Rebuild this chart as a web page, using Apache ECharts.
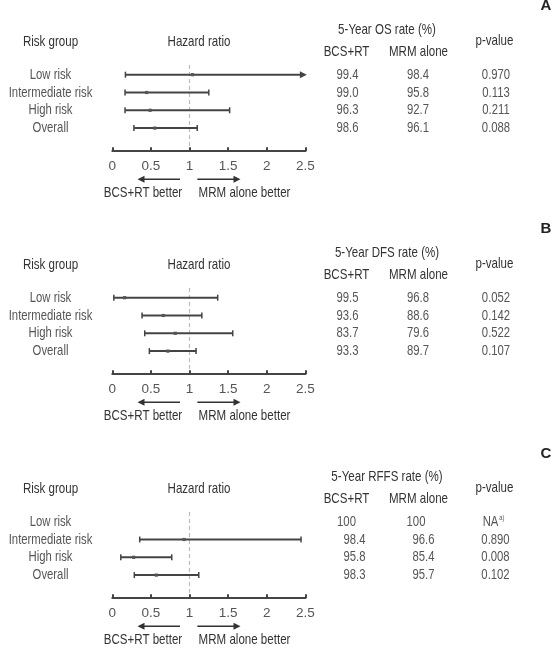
<!DOCTYPE html>
<html><head><meta charset="utf-8">
<script src="https://cdn.jsdelivr.net/npm/echarts@6/dist/echarts.min.js"></script>
<style>html,body{margin:0;padding:0;background:#fff}#c{width:552px;height:652px}</style>
</head><body><div id="c"></div>
<script>
const riskGroups = ['Low risk', 'Intermediate risk', 'High risk', 'Overall'];
const panelLetters = ['A', 'B', 'C'];
const rateTitles = ['5-Year OS rate (%)', '5-Year DFS rate (%)', '5-Year RFFS rate (%)'];
const xTicks = [0, 0.5, 1, 1.5, 2, 2.5];

// Hazard ratios (lower CI, point, upper CI); arrow = CI continues past axis
const osLower = [0.17, 0.165, 0.165, 0.28];
const osPoint = [1.04, 0.445, 0.49, 0.55];
const osUpper = [2.52, 1.25, 1.52, 1.10];
const osArrow = [1, 0, 0, 0];

const dfsLower = [0.02, 0.385, 0.42, 0.48];
const dfsPoint = [0.16, 0.66, 0.815, 0.72];
const dfsUpper = [1.365, 1.16, 1.56, 1.085];
const dfsArrow = [0, 0, 0, 0];

const rffsLower = [null, 0.355, 0.11, 0.285];
const rffsPoint = [null, 0.93, 0.277, 0.57];
const rffsUpper = [null, 2.445, 0.77, 1.12];
const rffsArrow = [0, 0, 0, 0];

// Table values
const osBcs = ['99.4', '99.0', '96.3', '98.6'];
const osMrm = ['98.4', '95.8', '92.7', '96.1'];
const osP = ['0.970', '0.113', '0.211', '0.088'];

const dfsBcs = ['99.5', '93.6', '83.7', '93.3'];
const dfsMrm = ['96.8', '88.6', '79.6', '89.7'];
const dfsP = ['0.052', '0.142', '0.522', '0.107'];

const rffsBcs = ['100', '98.4', '95.8', '98.3'];
const rffsMrm = ['100', '96.6', '85.4', '95.7'];
const rffsP = ['NA', '0.890', '0.008', '0.102'];

const panels = [
  {lo: osLower, pt: osPoint, hi: osUpper, ar: osArrow, bcs: osBcs, mrm: osMrm, p: osP},
  {lo: dfsLower, pt: dfsPoint, hi: dfsUpper, ar: dfsArrow, bcs: dfsBcs, mrm: dfsMrm, p: dfsP},
  {lo: rffsLower, pt: rffsPoint, hi: rffsUpper, ar: rffsArrow, bcs: rffsBcs, mrm: rffsMrm, p: rffsP}
];

const FONT = "'Liberation Sans', Arial, sans-serif";
const SX = 0.77;      // horizontal condensing of header text
const SX_ROW = 0.78;  // horizontal condensing of row text
const offsets = [0, 223, 447];
const ROW = 17.8;
const GRID_LEFT = 112.3, GRID_W = 193;
const FIRST_ROW_Y = 74.7;
const DARK = '#333', MID = '#555', BAR = '#444';

const chart = echarts.init(document.getElementById('c'), null, {renderer: 'canvas'});

const grids = [], xAxes = [], yAxes = [], series = [], graphics = [];

function txt(text, x, y, opts) {
  opts = opts || {};
  return {
    type: 'text', x: x, y: y, scaleX: opts.sx || SX, silent: true,
    style: {
      text: text, fill: opts.fill || DARK,
      font: (opts.weight || 'normal') + ' ' + (opts.size || 15) + 'px ' + FONT,
      align: 'center', verticalAlign: 'middle'
    }
  };
}

panels.forEach((pn, i) => {
  const off = offsets[i];
  const top = FIRST_ROW_Y - ROW + off;
  grids.push({left: GRID_LEFT, top: top, width: GRID_W, height: 5.3 * ROW});
  xAxes.push({
    gridIndex: i, type: 'value', min: 0, max: 2.5, interval: 0.5, position: 'bottom',
    axisLine: {show: true, onZero: false, lineStyle: {color: BAR, width: 2}},
    axisTick: {show: true, inside: true, length: 4, lineStyle: {color: BAR, width: 2}},
    axisLabel: {color: MID, fontSize: 13.5, fontFamily: FONT, margin: 8,
      formatter: v => (xTicks.indexOf(v) >= 0 ? String(v) : '')},
    splitLine: {show: false}
  });
  yAxes.push({
    gridIndex: i, type: 'value', inverse: true, min: 0, max: 5.3, interval: 1, show: false,
    axisLine: {show: false}, axisTick: {show: false}, splitLine: {show: false}, axisLabel: {show: false}
  });

  // dashed reference line at HR = 1
  series.push({
    type: 'line', xAxisIndex: i, yAxisIndex: i, silent: true, symbol: 'none',
    data: [[1, 0.45], [1, 5.12]],
    lineStyle: {color: '#bbb', width: 1.2, type: [4, 3]}, z: 1
  });

  // error bars
  const data = [];
  for (let r = 0; r < 4; r++) {
    if (pn.lo[r] == null) continue;
    data.push([pn.lo[r], pn.pt[r], pn.hi[r], r + 1, pn.ar[r]]);
  }
  series.push({
    type: 'custom', xAxisIndex: i, yAxisIndex: i, silent: true, z: 3,
    encode: {x: [0, 1, 2], y: 3},
    data: data,
    renderItem: function (params, api) {
      const lo = api.coord([api.value(0), api.value(3)]);
      const pt = api.coord([api.value(1), api.value(3)]);
      const hi = api.coord([api.value(2), api.value(3)]);
      const arrow = api.value(4) === 1;
      const st = {stroke: BAR, lineWidth: 2};
      const ch = [
        {type: 'line', shape: {x1: lo[0], y1: lo[1], x2: arrow ? hi[0] - 5 : hi[0], y2: hi[1]}, style: st},
        {type: 'line', shape: {x1: lo[0], y1: lo[1] - 3, x2: lo[0], y2: lo[1] + 3}, style: {stroke: BAR, lineWidth: 1.5}},
        {type: 'rect', shape: {x: pt[0] - 1.6, y: pt[1] - 1.6, width: 3.2, height: 3.2}, style: {fill: '#555'}}
      ];
      if (arrow) {
        ch.push({type: 'polygon', shape: {points: [[hi[0], hi[1]], [hi[0] - 7, hi[1] - 3.5], [hi[0] - 7, hi[1] + 3.5]]}, style: {fill: BAR}});
      } else {
        ch.push({type: 'line', shape: {x1: hi[0], y1: hi[1] - 3, x2: hi[0], y2: hi[1] + 3}, style: {stroke: BAR, lineWidth: 1.5}});
      }
      return {type: 'group', children: ch};
    }
  });

  // row labels + table columns, placed on the row scale of the same axis
  const isC = i === 2;
  const cols = [
    {arr: riskGroups, x: 50.5},
    {arr: pn.bcs, x: isC ? 354.5 : 347.5, shift100: -8},
    {arr: pn.mrm, x: isC ? 423.5 : 418, shift100: -7.5},
    {arr: pn.p, x: isC ? 495.5 : 496}
  ];
  series.push({
    type: 'custom', xAxisIndex: i, yAxisIndex: i, silent: true, z: 4,
    encode: {y: 0},
    data: riskGroups.map((_, r) => [r + 1]),
    renderItem: function (params, api) {
      const r = params.dataIndex;
      const y = api.coord([0, api.value(0)])[1];
      const ch = [];
      cols.forEach(c => {
        const s = c.arr[r];
        if (s == null) return;
        let x = c.x;
        if (s === '100' && c.shift100) x += c.shift100;
        const el = {
          type: 'text', x: x, y: y, scaleX: SX_ROW,
          style: {text: s, fill: MID, font: '14.5px ' + FONT, align: 'center', verticalAlign: 'middle'}
        };
        if (s === 'NA') {
          el.x = x - 2;
          el.style.text = '{na|NA}{sup|a)}';
          el.style.rich = {
            na: {fill: MID, font: '14.5px ' + FONT},
            sup: {fill: MID, font: '7.5px ' + FONT, padding: [0, 0, 8, 1]}
          };
        }
        ch.push(el);
      });
      return {type: 'group', children: ch};
    }
  });

  // headers
  graphics.push(txt(panelLetters[i], 546, 6 + off + (i === 2 ? 1 : 0), {weight: 'bold', size: 15, fill: '#222', sx: 1}));
  graphics.push(txt('Risk group', 50.5, 41.7 + off));
  graphics.push(txt('Hazard ratio', 199, 41.7 + off));
  graphics.push(txt(rateTitles[i], 387, 30 + off));
  graphics.push(txt('BCS+RT', 346.5, 52 + off));
  graphics.push(txt('MRM alone', 418.5, 52 + off));
  graphics.push(txt('p-value', 494.5, 41 + off));

  // direction arrows and labels
  const ay = 179.3 + off;
  graphics.push({type: 'line', silent: true, shape: {x1: 142, y1: ay, x2: 180, y2: ay}, style: {stroke: '#333', lineWidth: 1.5}});
  graphics.push({type: 'polygon', silent: true, shape: {points: [[137.5, ay], [144.5, ay - 3.5], [144.5, ay + 3.5]]}, style: {fill: '#333'}});
  graphics.push({type: 'line', silent: true, shape: {x1: 197.3, y1: ay, x2: 236, y2: ay}, style: {stroke: '#333', lineWidth: 1.5}});
  graphics.push({type: 'polygon', silent: true, shape: {points: [[240.5, ay], [233.5, ay - 3.5], [233.5, ay + 3.5]]}, style: {fill: '#333'}});
  graphics.push(txt('BCS+RT better', 143, 192.7 + off));
  graphics.push(txt('MRM alone better', 244.5, 192.7 + off));
});

chart.setOption({
  animation: false,
  backgroundColor: '#fff',
  grid: grids,
  xAxis: xAxes,
  yAxis: yAxes,
  series: series,
  graphic: {elements: graphics}
});
</script>
</body></html>
